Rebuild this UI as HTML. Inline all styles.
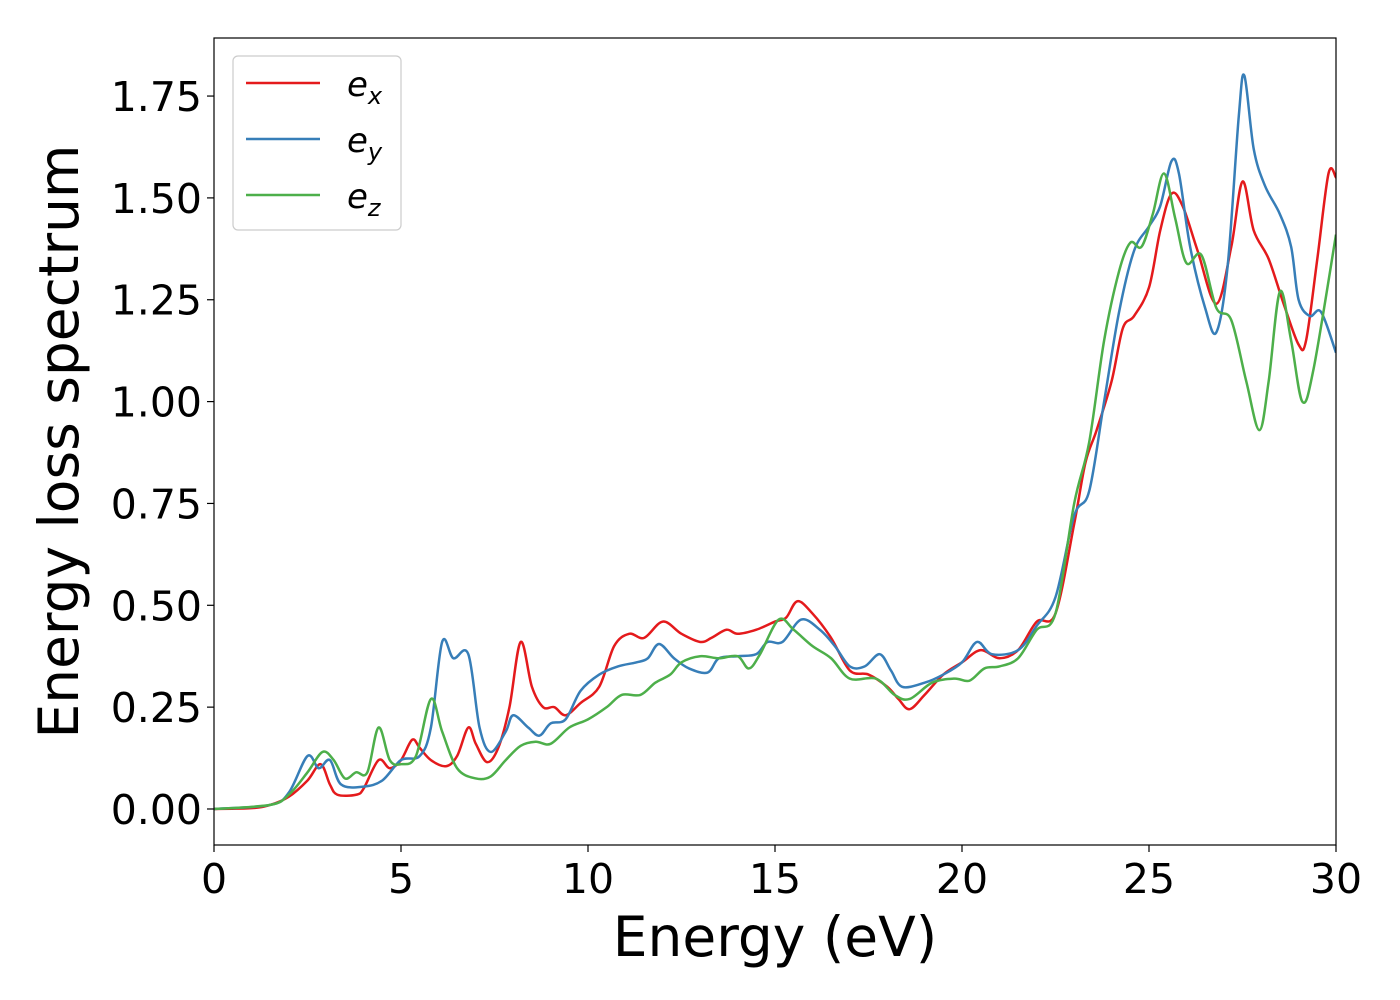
<!DOCTYPE html>
<html><head><meta charset="utf-8"><style>
html,body{margin:0;padding:0;background:#fff;}
svg{display:block;font-family:"DejaVu Sans","Liberation Sans",sans-serif;}
</style></head><body>
<svg id="chart" width="1400" height="1000">
<rect x="0" y="0" width="1400" height="1000" fill="#fff"/>
<g id="plot"></g>
</svg>
<script>
const xTicks=[0,5,10,15,20,25,30];
const yTicks=[0,0.25,0.5,0.75,1.0,1.25,1.5,1.75];
const yTickLabels=["0.00","0.25","0.50","0.75","1.00","1.25","1.50","1.75"];
const seriesNames=["e_x","e_y","e_z"];
const exX=[0,1,1.5,2,2.5,2.85,3.1,3.3,3.8,4.0,4.4,4.7,5.0,5.3,5.5,5.8,6.2,6.5,6.8,7.0,7.3,7.6,7.9,8.2,8.5,8.8,9.1,9.4,9.8,10.3,10.7,11.1,11.5,12.0,12.5,13.0,13.3,13.7,14.0,14.5,15.0,15.3,15.6,16.0,16.5,17.0,17.5,18.0,18.3,18.6,19.0,19.5,20.0,20.5,21.0,21.5,22.0,22.5,23.0,23.3,23.6,24.0,24.3,24.6,25.0,25.3,25.6,25.9,26.3,26.8,27.2,27.5,27.8,28.2,28.6,29.0,29.2,29.5,29.8,30];
const exY=[0,0.002,0.01,0.03,0.07,0.11,0.06,0.035,0.035,0.05,0.12,0.1,0.12,0.17,0.15,0.12,0.105,0.13,0.2,0.16,0.115,0.15,0.25,0.41,0.3,0.25,0.25,0.23,0.26,0.3,0.4,0.43,0.42,0.46,0.43,0.41,0.42,0.44,0.43,0.44,0.46,0.47,0.51,0.48,0.42,0.34,0.33,0.3,0.27,0.245,0.28,0.33,0.36,0.39,0.37,0.39,0.46,0.48,0.7,0.85,0.93,1.05,1.18,1.21,1.28,1.42,1.51,1.48,1.37,1.24,1.38,1.54,1.42,1.35,1.24,1.14,1.15,1.35,1.56,1.55];
const eyX=[0,1.5,2,2.5,2.8,3.1,3.4,4.0,4.5,5.0,5.5,5.8,6.1,6.4,6.8,7.1,7.4,7.8,8.0,8.4,8.7,9.0,9.4,9.8,10.3,10.8,11.3,11.6,11.9,12.3,12.7,13.2,13.5,14.0,14.5,14.8,15.2,15.7,16.2,16.6,17.0,17.4,17.8,18.1,18.4,19.0,19.5,20.0,20.4,20.8,21.5,22.0,22.5,23.0,23.4,23.8,24.2,24.6,25.0,25.3,25.6,25.8,26.1,26.5,26.8,27.1,27.4,27.55,27.8,28.1,28.5,28.8,29.0,29.3,29.6,30];
const eyY=[0,0.01,0.04,0.13,0.1,0.12,0.06,0.055,0.07,0.12,0.13,0.2,0.41,0.37,0.38,0.2,0.14,0.19,0.23,0.2,0.18,0.21,0.22,0.29,0.33,0.35,0.36,0.37,0.405,0.37,0.345,0.335,0.37,0.375,0.38,0.41,0.41,0.465,0.44,0.4,0.35,0.35,0.38,0.34,0.3,0.31,0.33,0.36,0.41,0.38,0.39,0.45,0.52,0.72,0.78,1.0,1.22,1.37,1.43,1.48,1.59,1.56,1.38,1.23,1.17,1.33,1.7,1.8,1.62,1.53,1.46,1.38,1.25,1.21,1.22,1.12];
const ezX=[0,1.5,2,2.5,2.9,3.2,3.5,3.8,4.1,4.4,4.7,5.0,5.4,5.8,6.1,6.5,7.0,7.4,7.8,8.2,8.6,9.0,9.5,10.0,10.5,10.9,11.4,11.8,12.2,12.5,13.0,13.5,14.0,14.3,14.6,15.1,15.5,16.0,16.5,17.0,17.7,18.2,18.6,19.2,19.8,20.2,20.6,21.0,21.5,22.0,22.5,23.0,23.4,23.8,24.2,24.5,24.8,25.1,25.4,25.7,26.0,26.4,26.8,27.2,27.6,27.95,28.2,28.5,28.8,29.1,29.4,30];
const ezY=[0,0.01,0.035,0.09,0.14,0.12,0.075,0.09,0.09,0.2,0.12,0.11,0.13,0.27,0.19,0.1,0.075,0.08,0.12,0.155,0.165,0.16,0.2,0.22,0.25,0.28,0.28,0.31,0.33,0.36,0.375,0.37,0.375,0.345,0.38,0.465,0.44,0.4,0.37,0.32,0.32,0.28,0.27,0.31,0.32,0.315,0.345,0.35,0.37,0.44,0.48,0.75,0.9,1.15,1.32,1.39,1.38,1.46,1.56,1.45,1.34,1.36,1.23,1.2,1.05,0.93,1.05,1.27,1.15,1.0,1.08,1.41];

const L=214,R=1336,T=38,B=845;
const xMin=0,xMax=30,yMin=-0.0884,yMax=1.8925;
const sx=v=>L+(v-xMin)/(xMax-xMin)*(R-L);
const sy=v=>B-(v-yMin)/(yMax-yMin)*(B-T);
const NS="http://www.w3.org/2000/svg";
const g=document.getElementById('plot');
function mk(tag,attrs){const e=document.createElementNS(NS,tag);for(const k in attrs)e.setAttribute(k,attrs[k]);return e;}
function smooth(xs,ys){
  const p=xs.map((x,i)=>[sx(x),sy(ys[i])]);
  let d=`M${p[0][0]},${p[0][1]}`;
  for(let i=0;i<p.length-1;i++){
    const p0=p[Math.max(0,i-1)],p1=p[i],p2=p[i+1],p3=p[Math.min(p.length-1,i+2)];
    const c1=[p1[0]+(p2[0]-p0[0])/6,p1[1]+(p2[1]-p0[1])/6];
    const c2=[p2[0]-(p3[0]-p1[0])/6,p2[1]-(p3[1]-p1[1])/6];
    d+=` C${c1[0]},${c1[1]} ${c2[0]},${c2[1]} ${p2[0]},${p2[1]}`;
  }
  return d;
}
const clip=mk('clipPath',{id:'pc'});clip.appendChild(mk('rect',{x:L,y:T,width:R-L,height:B-T}));g.appendChild(clip);
const series=[[exX,exY,'#e41a1c','line-ex'],[eyX,eyY,'#377eb8','line-ey'],[ezX,ezY,'#4daf4a','line-ez']];
series.forEach(s=>{
  const path=mk('path',{d:smooth(s[0],s[1]),fill:'none',stroke:s[2],'stroke-width':2.5,'clip-path':'url(#pc)'});
  
  
  g.appendChild(path);
});
const frame=mk('rect',{x:L,y:T,width:R-L,height:B-T,fill:'none',stroke:'#000','stroke-width':1.2});


g.appendChild(frame);
xTicks.forEach(v=>{
  g.appendChild(mk('line',{x1:sx(v),x2:sx(v),y1:B,y2:B+7,stroke:'#000','stroke-width':1.2}));
  const t=mk('text',{x:sx(v),y:B+48,'text-anchor':'middle','font-size':41});
  t.textContent=v;
  
  
  g.appendChild(t);
});
yTicks.forEach((v,i)=>{
  g.appendChild(mk('line',{x1:L-7,x2:L,y1:sy(v),y2:sy(v),stroke:'#000','stroke-width':1.2}));
  const t=mk('text',{x:L-12,y:sy(v)+15,'text-anchor':'end','font-size':41});
  t.textContent=yTickLabels[i];
  
  
  g.appendChild(t);
});
const xt=mk('text',{x:(L+R)/2,y:956,'text-anchor':'middle','font-size':55});
xt.textContent='Energy (eV)';


g.appendChild(xt);
const yt=mk('text',{x:0,y:0,'text-anchor':'middle','font-size':55,transform:`translate(78,${(T+B)/2}) rotate(-90)`});
yt.textContent='Energy loss spectrum';


g.appendChild(yt);
const lg=mk('rect',{x:233,y:56,width:168,height:174,rx:5,fill:'#fff','fill-opacity':0.8,stroke:'#ccc','stroke-width':1.2});


g.appendChild(lg);
const subs=['x','y','z'];
series.forEach((s,i)=>{
  const y=83+i*56;
  g.appendChild(mk('line',{x1:246,x2:320,y1:y,y2:y,stroke:s[2],'stroke-width':2.5}));
  const t=mk('text',{x:347,y:y+13,'font-size':34,'font-style':'italic'});
  t.innerHTML=`e<tspan font-size="24" dy="8">${subs[i]}</tspan>`;
  
  
  g.appendChild(t);
});
</script>
</body></html>
